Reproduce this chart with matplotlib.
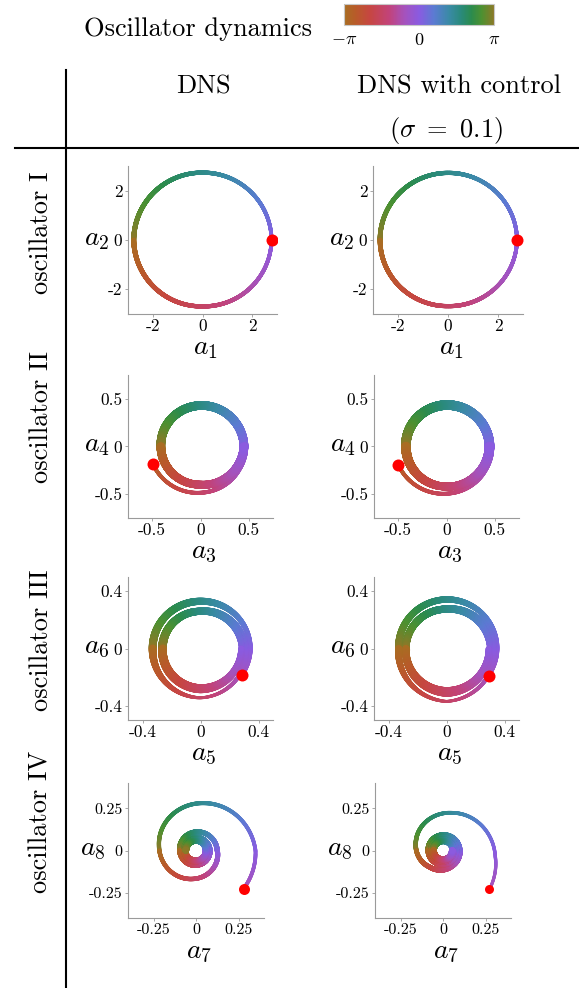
import numpy as np
import matplotlib
matplotlib.use("Agg")
import matplotlib.pyplot as plt
from matplotlib.collections import LineCollection
from matplotlib.colors import LinearSegmentedColormap, Normalize
from matplotlib.cm import ScalarMappable

plt.rcParams['font.family'] = ['cmr10', 'DejaVu Serif']
plt.rcParams['mathtext.fontset'] = 'cm'
plt.rcParams['axes.unicode_minus'] = False
plt.rcParams['axes.formatter.use_mathtext'] = True

W, H, DPI = 579, 988, 100

# cyclic phase colours, -pi .. pi
phase_stops = [0.0, 0.08, 0.17, 0.30, 0.40, 0.50, 0.60, 0.70, 0.78, 0.85, 0.92, 1.0]
phase_colors = ['#a86e22', '#b95a2a', '#c64641', '#c2437a', '#a652bb', '#8a5be0',
                '#5b7bd2', '#3a8aa6', '#2a8a7c', '#2b8b4e', '#4d9131', '#8a7a28']

column_titles = ['DNS', 'DNS with control']
row_titles = ['oscillator I', 'oscillator II', 'oscillator III', 'oscillator IV']

# trajectories: polar angle (deg, unwrapped), radius and band width along the orbit
osc1_dns_theta = [0, 90, 180, 270, 360]
osc1_dns_r = [2.78, 2.73, 2.77, 2.69, 2.78]
osc1_dns_w = [0.15, 0.17, 0.20, 0.17, 0.15]
osc1_ctl_theta = [0, 90, 180, 270, 360]
osc1_ctl_r = [2.76, 2.72, 2.72, 2.68, 2.76]
osc1_ctl_w = [0.15, 0.17, 0.19, 0.17, 0.15]

osc2_dns_theta = [201, 270, 330, 360, 450, 540, 630, 720, 810, 900, 990, 1080]
osc2_dns_r = [0.525, 0.485, 0.465, 0.45, 0.43, 0.41, 0.40, 0.45, 0.43, 0.41, 0.40, 0.45]
osc2_dns_w = [0.04, 0.04, 0.05, 0.09, 0.09, 0.09, 0.08, 0.09, 0.09, 0.09, 0.08, 0.09]
osc2_ctl_theta = [201, 270, 330, 360, 450, 540, 630, 720, 810, 900, 990, 1080]
osc2_ctl_r = [0.535, 0.495, 0.47, 0.445, 0.435, 0.42, 0.42, 0.445, 0.435, 0.42, 0.42, 0.445]
osc2_ctl_w = [0.04, 0.04, 0.05, 0.10, 0.10, 0.10, 0.08, 0.10, 0.10, 0.10, 0.08, 0.10]

osc3_dns_theta = [-33, 0, 90, 180, 270, 360, 450, 540, 630, 720, 810, 900, 990, 1080]
osc3_dns_r = [0.345, 0.345, 0.33, 0.33, 0.345, 0.315, 0.26, 0.265, 0.30, 0.285, 0.26, 0.26, 0.27, 0.28]
osc3_dns_w = [0.02, 0.03, 0.05, 0.055, 0.02, 0.035, 0.05, 0.055, 0.025, 0.04, 0.05, 0.055, 0.04, 0.04]
osc3_ctl_theta = [-33, 0, 90, 180, 270, 360, 450, 540, 630, 720, 810, 900, 990, 1080]
osc3_ctl_r = [0.351, 0.35, 0.343, 0.33, 0.37, 0.33, 0.275, 0.28, 0.325, 0.30, 0.275, 0.28, 0.29, 0.29]
osc3_ctl_w = [0.02, 0.03, 0.045, 0.05, 0.02, 0.035, 0.05, 0.05, 0.025, 0.04, 0.05, 0.05, 0.04, 0.04]

osc4_dns_theta = [-39, 0, 80, 172, 263, 360, 450, 540, 630, 720, 810, 900, 990, 1080, 1170, 1260]
osc4_dns_r = [0.36, 0.35, 0.285, 0.22, 0.17, 0.125, 0.11, 0.095, 0.085, 0.08, 0.072, 0.066,
              0.062, 0.06, 0.06, 0.06]
osc4_dns_w = [0.022, 0.022, 0.024, 0.025, 0.026, 0.03, 0.03, 0.032, 0.035, 0.035, 0.04, 0.04,
              0.04, 0.04, 0.04, 0.04]
osc4_ctl_theta = [-40, -7, 76, 159, 230, 300, 360, 450, 540, 630, 720, 810, 900, 990, 1080,
                  1170, 1260, 1350, 1440]
osc4_ctl_r = [0.357, 0.31, 0.23, 0.17, 0.126, 0.105, 0.095, 0.088, 0.083, 0.08, 0.075, 0.07,
              0.067, 0.063, 0.06, 0.058, 0.056, 0.055, 0.055]
osc4_ctl_w = [0.018, 0.02, 0.022, 0.026, 0.03, 0.035, 0.04, 0.04, 0.04, 0.04, 0.04, 0.04,
              0.04, 0.04, 0.04, 0.04, 0.04, 0.04, 0.04]

trajectories = [
    [(osc1_dns_theta, osc1_dns_r, osc1_dns_w), (osc1_ctl_theta, osc1_ctl_r, osc1_ctl_w)],
    [(osc2_dns_theta, osc2_dns_r, osc2_dns_w), (osc2_ctl_theta, osc2_ctl_r, osc2_ctl_w)],
    [(osc3_dns_theta, osc3_dns_r, osc3_dns_w), (osc3_ctl_theta, osc3_ctl_r, osc3_ctl_w)],
    [(osc4_dns_theta, osc4_dns_r, osc4_dns_w), (osc4_ctl_theta, osc4_ctl_r, osc4_ctl_w)],
]

axis_limits = [3.0, 0.75, 0.5, 0.4]
tick_values = [[-2, 0, 2], [-0.5, 0, 0.5], [-0.4, 0, 0.4], [-0.25, 0, 0.25]]
tick_labels = [['-2', '0', '2'], ['-0.5', '0', '0.5'], ['-0.4', '0', '0.4'],
               ['-0.25', '0', '0.25']]
axis_names = [('$a_1$', '$a_2$'), ('$a_3$', '$a_4$'), ('$a_5$', '$a_6$'), ('$a_7$', '$a_8$')]

# panel boxes in pixels: left, top, right, bottom
boxes = [
    [(128, 166, 277, 314), (373, 166, 523, 314)],
    [(128, 375, 273, 518), (374, 375, 519, 518)],
    [(128, 577, 273, 720), (374, 577, 519, 720)],
    [(128, 783, 264, 918), (375, 783, 511, 918)],
]
ylabel_gap = [19, 18, 18, 22]
dot_px = [[12, 12], [12, 12], [12, 12], [11, 9]]
tick_size = [12.5, 12.5, 12.5, 11.5]

cmap = LinearSegmentedColormap.from_list('phase', list(zip(phase_stops, phase_colors)))
norm = Normalize(-np.pi, np.pi)


def fig_box(l, t, r, b):
    return [l / W, 1 - b / H, (r - l) / W, (b - t) / H]


def draw_orbit(ax, theta, r, w, lim, height_px, dot):
    t = np.linspace(theta[0], theta[-1], 3000)
    rr = np.interp(t, theta, r)
    ww = np.interp(t, theta, w)
    x = rr * np.cos(np.radians(t))
    y = rr * np.sin(np.radians(t))
    pts = np.column_stack([x, y]).reshape(-1, 1, 2)
    segs = np.concatenate([pts[:-1], pts[1:]], axis=1)
    phase = np.arctan2(y[:-1], x[:-1])
    lw = ww[:-1] * height_px / (2 * lim) * 72 / DPI
    lc = LineCollection(segs, colors=cmap(norm(phase)), linewidths=lw, capstyle='round')
    ax.add_collection(lc)
    ax.plot(x[0], y[0], 'o', color='#ff0000', ms=dot * 72 / DPI, mec='none', zorder=5)


fig = plt.figure(figsize=(W / DPI, H / DPI), dpi=DPI)

for i in range(4):
    lim = axis_limits[i]
    for j in range(2):
        l, t, rgt, b = boxes[i][j]
        ax = fig.add_axes(fig_box(l, t, rgt, b))
        th, rr, ww = trajectories[i][j]
        draw_orbit(ax, th, rr, ww, lim, b - t, dot_px[i][j])
        ax.set_xlim(-lim, lim)
        ax.set_ylim(-lim, lim)
        for s in ['top', 'right']:
            ax.spines[s].set_visible(False)
        for s in ['left', 'bottom']:
            ax.spines[s].set_color('#9a9a9a')
            ax.spines[s].set_linewidth(0.8)
        ax.set_xticks(tick_values[i])
        ax.set_xticklabels(tick_labels[i])
        ax.set_yticks(tick_values[i])
        ax.set_yticklabels(tick_labels[i])
        ax.tick_params(length=2, width=0.6, color='#9a9a9a', labelsize=tick_size[i], pad=1.5)
        ax.tick_params(axis='y', pad=2)
        xn, yn = axis_names[i]
        fig.text((l + rgt) / 2 / W + 3 / W, 1 - (b + 40) / H, xn, fontsize=20,
                 ha='center', va='baseline')
        fig.text((l - ylabel_gap[i]) / W, 1 - ((t + b) / 2 + 5) / H, yn, fontsize=20,
                 ha='right', va='baseline')

# colour bar for the phase
cax = fig.add_axes(fig_box(344, 4, 494, 25))
cb = fig.colorbar(ScalarMappable(norm=norm, cmap=cmap), cax=cax, orientation='horizontal',
                  ticks=[-np.pi, 0, np.pi])
cb.ax.set_xticklabels(['$-\\pi$', '$0$', '$\\pi$'])
cb.ax.tick_params(length=0, labelsize=13, pad=5)
cb.outline.set_edgecolor('#c8c8c8')
cb.outline.set_linewidth(0.8)
fig.text(312 / W, 1 - 36 / H, 'Oscillator dynamics', fontsize=19, ha='right', va='baseline')

# table frame and headers
fig.add_artist(plt.Line2D([66 / W, 66 / W], [0, 1 - 70 / H], color='black', lw=1.5))
fig.add_artist(plt.Line2D([15 / W, 1], [1 - 148 / H, 1 - 148 / H], color='black', lw=1.5))
fig.text(203 / W, 1 - 93 / H, column_titles[0], fontsize=19, ha='center', va='baseline')
fig.text(459 / W, 1 - 93 / H, column_titles[1], fontsize=19, ha='center', va='baseline')
fig.text(446 / W, 1 - 137 / H, '$(\\sigma\\ =\\ 0.1)$', fontsize=19, ha='center', va='baseline')
for name, yc in zip(row_titles, [233, 417, 640, 822]):
    fig.text(41 / W, 1 - yc / H, name, fontsize=19, rotation=90, ha='center', va='center')

fig.savefig('out.png', dpi=DPI)
